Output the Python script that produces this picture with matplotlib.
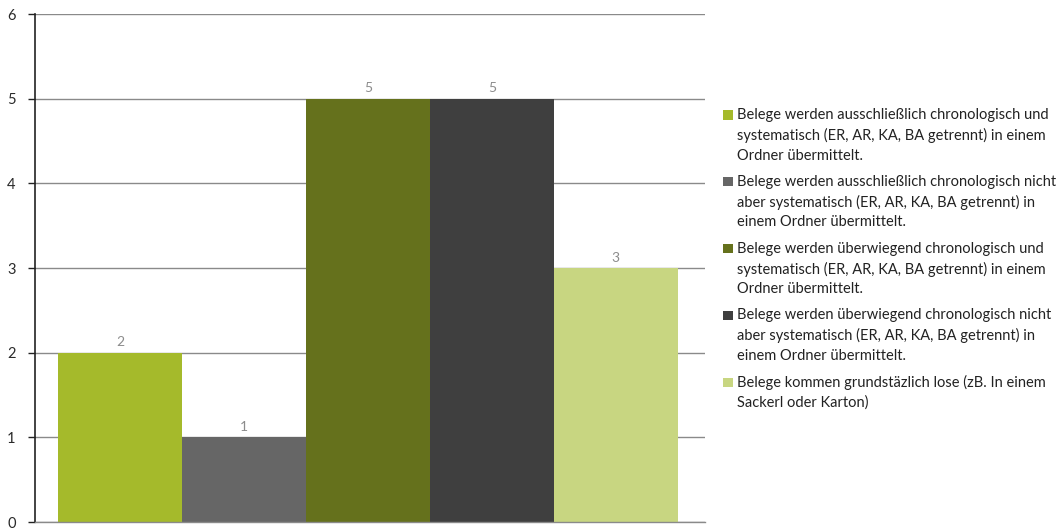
import matplotlib
matplotlib.use("Agg")
import matplotlib.pyplot as plt
from matplotlib.patches import Rectangle

labels = [
    "Belege werden ausschließlich chronologisch und\nsystematisch (ER, AR, KA, BA getrennt) in einem\nOrdner übermittelt.",
    "Belege werden ausschließlich chronologisch nicht\naber systematisch (ER, AR, KA, BA getrennt) in\neinem Ordner übermittelt.",
    "Belege werden überwiegend chronologisch und\nsystematisch (ER, AR, KA, BA getrennt) in einem\nOrdner übermittelt.",
    "Belege werden überwiegend chronologisch nicht\naber systematisch (ER, AR, KA, BA getrennt) in\neinem Ordner übermittelt.",
    "Belege kommen grundstäzlich lose (zB. In einem\nSackerl oder Karton)",
]
values = [2, 1, 5, 5, 3]
colors = ["#A5BA2B", "#666666", "#65711C", "#3F3F3F", "#C8D681"]
yticks = [0, 1, 2, 3, 4, 5, 6]

plt.rcParams['font.family'] = ['Lato', 'DejaVu Sans']

W, H = 1061, 529
fig = plt.figure(figsize=(W/100, H/100), dpi=100)
ax = fig.add_axes([35/W, 1 - 522/H, (705 - 35)/W, (522 - 14)/H])

xs = list(range(len(values)))
ax.bar(xs, values, width=1.0, color=colors, zorder=2)
for x, v in zip(xs, values):
    ax.text(x, v + 0.05, str(v), ha='center', va='bottom', fontsize=10, color='#8C8C8C')

ax.set_xlim(-0.685, 4.72)
ax.set_ylim(0, 6)
ax.set_yticks(yticks)
ax.set_xticks([])
ax.yaxis.grid(True, color='#8A8A8A', linewidth=1.0, zorder=0)
ax.set_axisbelow(True)
for s in ['top', 'right']:
    ax.spines[s].set_visible(False)
ax.spines['left'].set_color('#222222')
ax.spines['left'].set_linewidth(1.2)
ax.spines['bottom'].set_color('#8A8A8A')
ax.spines['bottom'].set_linewidth(1.0)
ax.tick_params(axis='y', length=5, width=1, color='#222222', labelsize=10.5, labelcolor='#2A2A2A', pad=9)

# legend (manual, so the marker sits on the first line of each entry)
y0, step = 115, 66.75
for i, (lab, c) in enumerate(zip(labels, colors)):
    yc = y0 + i * step
    fig.add_artist(Rectangle((723/W, 1 - (yc + 4.5)/H), 10/W, 9/H,
                             transform=fig.transFigure, facecolor=c, edgecolor='none'))
    fig.text(737/W, 1 - (yc - 7)/H, lab, ha='left', va='top', fontsize=10.5,
             color='#222222', linespacing=1.5)

fig.savefig("out.png", dpi=100)
